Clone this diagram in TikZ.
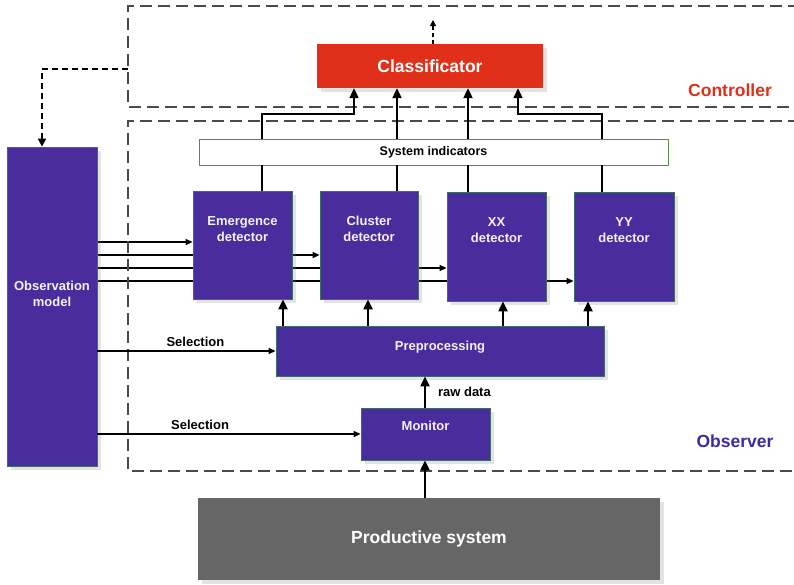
\documentclass[tikz,border=0pt]{standalone}
\usepackage{fontspec}
\setmainfont{Liberation Sans}
\usetikzlibrary{arrows.meta,shadows,backgrounds}

\definecolor{boxpurple}{HTML}{4A2D9C}
\definecolor{boxedge}{HTML}{3F6B6B}
\definecolor{clsred}{HTML}{E0301A}
\definecolor{prodgray}{HTML}{666666}
\definecolor{ctrltext}{HTML}{E0301A}
\definecolor{obstext}{HTML}{3B2AA0}
\definecolor{regionline}{HTML}{4A4A4A}
\definecolor{sysedge}{HTML}{5A8A4A}

\tikzset{
  softshadow/.style={drop shadow={opacity=0.22,shadow xshift=4pt,shadow yshift=-4pt}},
  purplebox/.style={draw=boxedge,line width=0.8pt,fill=boxpurple,softshadow,
    text=white,font=\bfseries\fontsize{13}{16}\selectfont,align=center,inner sep=0pt},
  labeltext/.style={text=white!95!blue,font=\bfseries\fontsize{13}{16}\selectfont,align=center,inner sep=0pt},
  region/.style={draw=regionline,line width=1.8pt,dash pattern=on 12pt off 6pt},
  thickarrow/.style={line width=2.1pt,-{Triangle[length=10pt,width=9pt]}},
  thickline/.style={line width=2.1pt},
  thinarrow/.style={line width=1.2pt,-{Triangle[length=7pt,width=6pt]}},
  dasharrow/.style={line width=2pt,dash pattern=on 6pt off 4pt,-{Triangle[length=8pt,width=8pt]}},
  smalltext/.style={font=\bfseries\fontsize{13}{16}\selectfont,inner sep=0pt},
  regiontext/.style={font=\bfseries\fontsize{17.5}{20}\selectfont,inner sep=0pt},
}

\begin{document}
\begin{tikzpicture}[x=1pt,y=-1pt]
\useasboundingbox (0,0) rectangle (794,584);

% controller and observer regions, open to the right
\draw[region] (800,6) -- (128,6) -- (128,107) -- (800,107);
\draw[region] (800,121) -- (128,121) -- (128,471) -- (800,471);
\coordinate (ctrlL) at (128,69);
\coordinate (bend) at (42,69);

% blocks
\node[draw=none,fill=clsred,softshadow,minimum width=226pt,minimum height=44pt,
      text=white,font=\bfseries\fontsize{17.5}{20}\selectfont] (cls) at (430,66) {Classificator};
\coordinate (out) at (433,20);

\node[draw=sysedge,line width=0.9pt,fill=white,minimum width=469pt,minimum height=26pt,
      inner sep=0pt,smalltext,font=\bfseries\fontsize{12.5}{15}\selectfont] (sys) at (433.5,152) {System indicators};

\node[purplebox,minimum width=99pt,minimum height=108pt] (em) at (242.5,245) {};
\node[purplebox,minimum width=98pt,minimum height=108pt] (cl) at (369,245) {};
\node[purplebox,minimum width=99pt,minimum height=109pt] (xx) at (496.5,246.5) {};
\node[purplebox,minimum width=100pt,minimum height=109pt] (yy) at (624,246.5) {};
\node[labeltext] (emt) at ([yshift=-38pt]em.north) {Emergence\\detector};
\node[labeltext] (clt) at ([yshift=-38pt]cl.north) {Cluster\\detector};
\node[labeltext] (xxt) at ([yshift=-38pt]xx.north) {XX\\detector};
\node[labeltext] (yyt) at ([yshift=-38pt]yy.north) {YY\\detector};

\node[purplebox,minimum width=90pt,minimum height=319pt] (obs) at (52,306.5) {};
\node[labeltext] (obst) at ([yshift=13pt]obs.center) {Observation\\model};

\node[purplebox,minimum width=328pt,minimum height=50pt] (pre) at (440,351) {};
\node[labeltext] (pret) at ([yshift=4pt]pre.center) {Preprocessing};

\node[purplebox,minimum width=129pt,minimum height=52pt] (mon) at (425.5,434) {};
\node[labeltext] (mont) at ([yshift=8pt]mon.center) {Monitor};

\node[fill=prodgray,softshadow,minimum width=462pt,minimum height=82pt,inner sep=0pt,
      text=white,font=\bfseries\fontsize{17.5}{20}\selectfont] (prod) at (429,539) {Productive system};

% region names
\node[regiontext,text=ctrltext] (ctrl) at (730,90) {Controller};
\node[regiontext,text=obstext] (obsv) at (735,441) {Observer};

% observation model feeding the detectors
\begin{scope}[on background layer]
  \draw[thinarrow] (obs.east |- 0,242) -- (em.west |- 0,242);
  \draw[thinarrow] (obs.east |- 0,255) -- (cl.west |- 0,255);
  \draw[thinarrow] (obs.east |- 0,268) -- (xx.west |- 0,268);
  \draw[thinarrow] (obs.east |- 0,281) -- (yy.west |- 0,281);
\end{scope}

% selection links
\draw[thinarrow] (obs.east |- pre.west) -- node[smalltext,above=4pt,pos=0.55] (sel1) {Selection} (pre.west);
\draw[thinarrow] (obs.east |- mon.west) -- node[smalltext,above=4pt,pos=0.39] (sel2) {Selection} (mon.west);

% data path upwards
\draw[thickarrow] (prod.north -| 425,0) -- (mon.south -| 425,0);
\draw[thickarrow] (mon.north -| 425,0) -- node[smalltext,right=12pt,pos=0.5] (raw) {raw data} (pre.south -| 425,0);

\draw[thickarrow] (pre.north -| 283,0) -- (em.south -| 283,0);
\draw[thickarrow] (pre.north -| 368,0) -- (cl.south -| 368,0);
\draw[thickarrow] (pre.north -| 503,0) -- (xx.south -| 503,0);
\draw[thickarrow] (pre.north -| 588,0) -- (yy.south -| 588,0);

% detectors to system indicators
\draw[thickline] (em.north -| 262,0) -- (sys.south -| 262,0);
\draw[thickline] (cl.north -| 397,0) -- (sys.south -| 397,0);
\draw[thickline] (xx.north -| 468,0) -- (sys.south -| 468,0);
\draw[thickline] (yy.north -| 602,0) -- (sys.south -| 602,0);

% system indicators to classificator
\draw[thickarrow] (sys.north -| 262,0) -- (262,114) -- (354,114) -- (cls.south -| 354,0);
\draw[thickarrow] (sys.north -| 397,0) -- (cls.south -| 397,0);
\draw[thickarrow] (sys.north -| 468,0) -- (cls.south -| 468,0);
\draw[thickarrow] (sys.north -| 602,0) -- (602,114) -- (518,114) -- (cls.south -| 518,0);

% controller feedback and output
\draw[dasharrow] (ctrlL) -- (bend) -- (obs.north -| bend);
\draw[line width=1.2pt,dash pattern=on 4pt off 3pt,-{Triangle[length=6pt,width=6pt]}] (cls.north -| out) -- (out);
\end{tikzpicture}
\end{document}
